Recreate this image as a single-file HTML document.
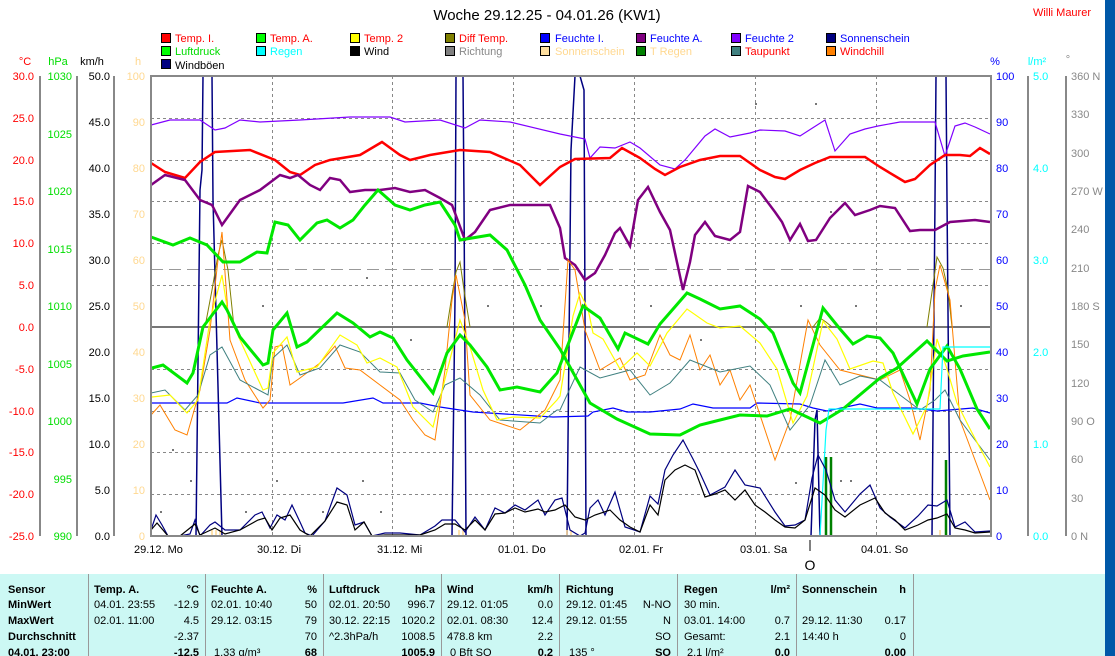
<!DOCTYPE html>
<html><head><meta charset="utf-8">
<style>
html,body{margin:0;padding:0;background:#fff;width:1115px;height:656px;overflow:hidden;font-family:"Liberation Sans",sans-serif}
svg{display:block}
</style></head><body>
<svg width="1115" height="656" xmlns="http://www.w3.org/2000/svg" font-family="Liberation Sans, sans-serif" font-size="11">
<rect x="0" y="0" width="1115" height="656" fill="#fff"/>
<rect x="1105" y="0" width="10" height="656" fill="#0058a8"/>
<text x="547" y="20" font-size="15" text-anchor="middle">Woche 29.12.25 - 04.01.26 (KW1)</text>
<text x="1091" y="16" fill="#f00" text-anchor="end">Willi Maurer</text>
<!-- legend -->
<g stroke="#000" stroke-width="1">
<rect x="161.5" y="33.5" width="9" height="9" fill="#f00"/><rect x="256.5" y="33.5" width="9" height="9" fill="#0f0"/><rect x="350.5" y="33.5" width="9" height="9" fill="#ff0"/><rect x="445.5" y="33.5" width="9" height="9" fill="#808000"/><rect x="540.5" y="33.5" width="9" height="9" fill="#00f"/><rect x="636.5" y="33.5" width="9" height="9" fill="#800080"/><rect x="731.5" y="33.5" width="9" height="9" fill="#8000ff"/><rect x="826.5" y="33.5" width="9" height="9" fill="#000080"/>
<rect x="161.5" y="46.5" width="9" height="9" fill="#0f0"/><rect x="256.5" y="46.5" width="9" height="9" fill="#0ff"/><rect x="350.5" y="46.5" width="9" height="9" fill="#000"/><rect x="445.5" y="46.5" width="9" height="9" fill="#808080"/><rect x="540.5" y="46.5" width="9" height="9" fill="#ffe0a0"/><rect x="636.5" y="46.5" width="9" height="9" fill="#008000"/><rect x="731.5" y="46.5" width="9" height="9" fill="#408080"/><rect x="826.5" y="46.5" width="9" height="9" fill="#ff8000"/>
<rect x="161.5" y="59.5" width="9" height="9" fill="#000080"/>
</g>
<g>
<text x="175" y="42" fill="#f00">Temp. I.</text><text x="270" y="42" fill="#f00">Temp. A.</text><text x="364" y="42" fill="#f00">Temp. 2</text><text x="459" y="42" fill="#f00">Diff Temp.</text><text x="555" y="42" fill="#00f">Feuchte I.</text><text x="650" y="42" fill="#00f">Feuchte A.</text><text x="745" y="42" fill="#00f">Feuchte 2</text><text x="840" y="42" fill="#00f">Sonnenschein</text>
<text x="175" y="55" fill="#0d0">Luftdruck</text><text x="270" y="55" fill="#0ff">Regen</text><text x="364" y="55" fill="#000">Wind</text><text x="459" y="55" fill="#888">Richtung</text><text x="555" y="55" fill="#ffd890">Sonnenschein</text><text x="650" y="55" fill="#ffd890">T Regen</text><text x="745" y="55" fill="#f00">Taupunkt</text><text x="840" y="55" fill="#f00">Windchill</text>
<text x="175" y="69" fill="#000">Windböen</text>
</g>
<!-- axis unit labels -->
<text x="25" y="65" fill="#f00" text-anchor="middle">°C</text>
<text x="58" y="65" fill="#0d0" text-anchor="middle">hPa</text>
<text x="92" y="65" text-anchor="middle">km/h</text>
<text x="138" y="65" fill="#ffd890" text-anchor="middle">h</text>
<text x="995" y="65" fill="#00f" text-anchor="middle">%</text>
<text x="1037" y="65" fill="#0ff" text-anchor="middle">l/m²</text>
<text x="1068" y="63" fill="#888" text-anchor="middle">°</text>
<!-- axis lines -->
<g stroke="#888" stroke-width="2">
<line x1="40" y1="76" x2="40" y2="536"/><line x1="77" y1="76" x2="77" y2="536"/><line x1="114" y1="76" x2="114" y2="536"/>
<line x1="1028" y1="76" x2="1028" y2="536"/><line x1="1066" y1="76" x2="1066" y2="536"/>
</g>
<!-- ticks/labels left -->
<g fill="#f00" text-anchor="end">
<text x="34" y="80">30.0</text><text x="34" y="122">25.0</text><text x="34" y="164">20.0</text><text x="34" y="205">15.0</text><text x="34" y="247">10.0</text><text x="34" y="289">5.0</text><text x="34" y="331">0.0</text><text x="34" y="373">-5.0</text><text x="34" y="415">-10.0</text><text x="34" y="456">-15.0</text><text x="34" y="498">-20.0</text><text x="34" y="540">-25.0</text>
</g>
<g fill="#0d0" text-anchor="end">
<text x="72" y="80">1030</text><text x="72" y="138">1025</text><text x="72" y="195">1020</text><text x="72" y="253">1015</text><text x="72" y="310">1010</text><text x="72" y="368">1005</text><text x="72" y="425">1000</text><text x="72" y="483">995</text><text x="72" y="540">990</text>
</g>
<g text-anchor="end">
<text x="110" y="80">50.0</text><text x="110" y="126">45.0</text><text x="110" y="172">40.0</text><text x="110" y="218">35.0</text><text x="110" y="264">30.0</text><text x="110" y="310">25.0</text><text x="110" y="356">20.0</text><text x="110" y="402">15.0</text><text x="110" y="448">10.0</text><text x="110" y="494">5.0</text><text x="110" y="540">0.0</text>
</g>
<g fill="#ffd890" text-anchor="end">
<text x="145" y="80">100</text><text x="145" y="126">90</text><text x="145" y="172">80</text><text x="145" y="218">70</text><text x="145" y="264">60</text><text x="145" y="310">50</text><text x="145" y="356">40</text><text x="145" y="402">30</text><text x="145" y="448">20</text><text x="145" y="494">10</text><text x="145" y="540">0</text>
</g>
<g fill="#00f">
<text x="996" y="80">100</text><text x="996" y="126">90</text><text x="996" y="172">80</text><text x="996" y="218">70</text><text x="996" y="264">60</text><text x="996" y="310">50</text><text x="996" y="356">40</text><text x="996" y="402">30</text><text x="996" y="448">20</text><text x="996" y="494">10</text><text x="996" y="540">0</text>
</g>
<g fill="#0ff">
<text x="1033" y="80">5.0</text><text x="1033" y="172">4.0</text><text x="1033" y="264">3.0</text><text x="1033" y="356">2.0</text><text x="1033" y="448">1.0</text><text x="1033" y="540">0.0</text>
</g>
<g fill="#888">
<text x="1071" y="80">360 N</text><text x="1071" y="118">330</text><text x="1071" y="157">300</text><text x="1071" y="195">270 W</text><text x="1071" y="233">240</text><text x="1071" y="272">210</text><text x="1071" y="310">180 S</text><text x="1071" y="348">150</text><text x="1071" y="387">120</text><text x="1071" y="425">90 O</text><text x="1071" y="463">60</text><text x="1071" y="502">30</text><text x="1071" y="540">0 N</text>
</g>
<!-- gridlines -->
<g stroke="#888" stroke-width="1" stroke-dasharray="3,3">
<line x1="151" y1="118.5" x2="991" y2="118.5"/><line x1="151" y1="160.5" x2="991" y2="160.5"/><line x1="151" y1="201.5" x2="991" y2="201.5"/><line x1="151" y1="243.5" x2="991" y2="243.5"/><line x1="151" y1="285.5" x2="991" y2="285.5"/><line x1="151" y1="369.5" x2="991" y2="369.5"/><line x1="151" y1="411.5" x2="991" y2="411.5"/><line x1="151" y1="452.5" x2="991" y2="452.5"/><line x1="151" y1="494.5" x2="991" y2="494.5"/>
<line x1="272.5" y1="76" x2="272.5" y2="536"/><line x1="392.5" y1="76" x2="392.5" y2="536"/><line x1="513.5" y1="76" x2="513.5" y2="536"/><line x1="634.5" y1="76" x2="634.5" y2="536"/><line x1="755.5" y1="76" x2="755.5" y2="536"/><line x1="876.5" y1="76" x2="876.5" y2="536"/>
</g>
<line x1="151" y1="269.5" x2="991" y2="269.5" stroke="#999" stroke-dasharray="12,6"/>
<line x1="151" y1="327" x2="991" y2="327" stroke="#777" stroke-width="2"/>
<!-- gray dots -->
<g fill="#777">
<rect x="160" y="511" width="2" height="2"/><rect x="172" y="449" width="2" height="2"/><rect x="190" y="480" width="2" height="2"/><rect x="276" y="480" width="2" height="2"/><rect x="245" y="511" width="2" height="2"/><rect x="322" y="511" width="2" height="2"/><rect x="362" y="480" width="2" height="2"/><rect x="380" y="511" width="2" height="2"/><rect x="226" y="305" width="2" height="2"/><rect x="262" y="305" width="2" height="2"/><rect x="366" y="277" width="2" height="2"/><rect x="410" y="339" width="2" height="2"/><rect x="487" y="305" width="2" height="2"/><rect x="540" y="305" width="2" height="2"/><rect x="755" y="103" width="2" height="2"/><rect x="815" y="103" width="2" height="2"/><rect x="650" y="305" width="2" height="2"/><rect x="800" y="305" width="2" height="2"/><rect x="855" y="305" width="2" height="2"/><rect x="960" y="305" width="2" height="2"/><rect x="700" y="339" width="2" height="2"/><rect x="830" y="211" width="2" height="2"/><rect x="795" y="482" width="2" height="2"/><rect x="840" y="480" width="2" height="2"/><rect x="850" y="480" width="2" height="2"/>
</g>
<!-- sunshine -->
<g fill="none" stroke="#000080" stroke-width="1.5">
<polyline points="196,536 200,190 202,170 203,76 212,76 213,200 222,536"/>
<polyline points="452,536 455,300 456,76 463,76 464,200 466,536"/>
<polyline points="567,536 571,150 575,76 580,76 584,90 586,536"/>
<polyline points="811,536 815,420 817,410 820,536"/>
<polyline points="932,536 935,200 936,76 946,76 947,200 950,536"/>
</g>
<!-- Feuchte I -->
<polyline fill="none" stroke="#00f" stroke-width="1.2" points="151,403 227,403 237,398 260,403 343,403 373,398 383,403 420,403 440,407 473,412 553,417 588,416 593,412 613,408 627,412 650,412 680,409 693,404 713,408 750,408 757,403 800,404 813,408 827,411 860,404 877,408 913,408 937,411 973,408 990,413"/>
<!-- Feuchte 2 -->
<polyline fill="none" stroke="#8000ff" stroke-width="1.2" points="151,125 170,120 200,120 215,130 225,128 240,120 260,122 300,120 350,117 390,117 405,122 440,120 465,128 480,120 510,122 560,134 585,139 590,158 600,147 615,148 630,142 640,148 660,165 675,169 685,160 705,136 715,129 730,137 750,133 760,130 785,131 800,136 825,120 835,151 850,134 865,129 878,126 900,122 935,122 945,156 955,126 965,123 975,127 990,134"/>
<!-- Temp I -->
<polyline fill="none" stroke="#f00" stroke-width="2.5" points="151,163 165,172 185,178 200,162 215,152 250,150 275,160 290,172 300,175 315,165 330,160 360,155 382,142 400,155 410,160 430,155 460,150 490,152 520,165 540,185 560,167 575,159 610,158 622,148 640,158 655,169 665,175 680,167 700,160 720,156 740,156 760,170 775,177 785,179 800,170 815,163 830,157 850,157 865,157 880,167 895,176 905,182 915,179 930,165 945,155 960,155 970,156 980,148 990,154"/>
<!-- Feuchte A -->
<polyline fill="none" stroke="#800080" stroke-width="2.5" points="151,185 165,175 185,180 200,200 212,205 222,225 240,200 260,190 280,175 290,178 298,175 310,185 320,190 330,178 340,180 350,192 365,190 380,190 395,188 410,192 425,190 440,198 452,205 465,240 475,232 490,210 510,205 535,205 550,205 560,228 565,258 575,265 585,280 595,273 605,255 615,233 620,228 630,246 638,200 648,187 660,212 670,230 683,290 690,262 695,235 705,222 715,236 730,240 740,232 748,186 760,192 775,212 782,222 790,240 800,224 808,241 816,240 830,218 845,203 855,215 870,210 880,206 895,208 910,231 920,230 935,230 950,222 975,220 990,222"/>
<!-- Diff temp -->
<g fill="none" stroke="#808000" stroke-width="1">
<polyline points="205,327 212,290 218,255 222,240 228,270 234,327"/>
<polyline points="447,327 452,295 456,272 460,262 464,290 470,327"/>
<polyline points="813,327 820,318 826,322 832,327"/>
<polyline points="927,327 933,285 937,257 943,268 948,290 952,327"/>
</g>
<!-- Orange windchill -->
<polyline fill="none" stroke="#ff8000" stroke-width="1" points="151,415 160,405 175,430 187,435 200,390 210,330 218,260 222,232 230,340 245,380 263,408 270,400 275,347 282,345 290,385 300,378 320,363 335,346 345,368 360,370 380,385 400,400 413,420 425,435 435,440 445,370 452,300 456,275 465,320 470,395 490,420 520,430 545,410 560,380 568,260 575,270 585,330 600,370 620,358 630,380 645,375 660,335 670,355 680,360 690,335 700,370 710,355 720,385 730,370 740,400 750,385 765,430 775,460 790,420 808,320 820,345 840,370 860,375 880,380 900,370 910,400 920,440 930,390 935,290 940,265 950,300 960,420 975,460 990,500"/>
<!-- Taupunkt -->
<polyline fill="none" stroke="#408080" stroke-width="1" points="151,393 165,390 185,410 198,395 210,355 222,347 240,380 268,395 273,358 287,345 300,375 320,368 340,345 360,352 380,372 400,373 415,400 433,412 445,385 460,378 480,395 500,420 540,423 557,410 560,410 580,367 600,378 630,370 650,395 670,383 690,360 720,372 750,366 770,385 790,430 810,405 825,360 840,385 860,376 880,380 900,395 920,410 935,400 945,390 960,420 975,440 990,460"/>
<!-- Temp 2 -->
<polyline fill="none" stroke="#ff0" stroke-width="1.2" points="152,397 170,395 187,413 198,400 210,320 222,275 228,313 240,340 263,390 268,388 273,353 287,337 297,372 317,367 340,335 357,345 367,363 380,358 397,367 413,407 433,427 443,387 460,320 470,347 483,390 497,420 513,417 540,418 557,400 560,396 573,316 580,293 588,309 593,333 603,339 620,369 637,353 650,366 667,333 687,309 707,323 720,328 740,326 760,343 777,369 793,423 807,396 823,321 837,339 850,369 873,361 883,363 893,393 913,434 927,406 937,339 947,369 957,403 970,429 990,467"/>
<!-- Luftdruck -->
<polyline fill="none" stroke="#00e800" stroke-width="3" points="151,237 173,245 190,238 207,245 223,262 240,262 257,252 267,253 275,222 288,225 300,240 317,223 327,220 340,228 353,220 365,205 378,190 395,205 410,210 425,205 440,202 455,225 460,240 490,235 507,250 525,285 540,320 560,349 590,403 617,419 650,434 680,435 700,425 720,420 740,415 767,416 790,409 820,423 843,409 880,378 897,368 927,341 947,361 963,356 990,352"/>
<!-- Temp A -->
<polyline fill="none" stroke="#00e800" stroke-width="3" points="152,368 163,365 187,383 193,373 203,327 222,302 227,310 240,337 263,365 268,363 273,330 287,313 297,347 307,342 337,313 353,323 370,337 380,332 393,338 407,360 433,393 447,353 460,335 470,345 487,367 500,390 517,387 540,392 557,373 583,306 600,318 618,349 625,333 648,344 660,324 687,293 700,299 720,309 740,306 760,319 773,333 793,383 800,393 823,308 840,329 853,344 867,336 880,338 893,353 917,404 930,369 947,346 960,369 977,409 990,429"/>
<!-- Regen -->
<polyline fill="none" stroke="#0ff" stroke-width="1.2" points="820,536 826,430 829,409 900,409 940,409 943,347 990,347"/>
<!-- T Regen bars -->
<g stroke="#008000" stroke-width="2.5"><line x1="826" y1="536" x2="826" y2="457"/><line x1="831" y1="536" x2="831" y2="457"/><line x1="946" y1="536" x2="946" y2="460"/></g>
<!-- sunny small bars -->
<g stroke="#ffd890" stroke-width="1.5"><line x1="212" y1="536" x2="212" y2="530"/><line x1="216" y1="536" x2="216" y2="530"/><line x1="220" y1="536" x2="220" y2="530"/><line x1="459" y1="536" x2="459" y2="530"/><line x1="463" y1="536" x2="463" y2="530"/><line x1="567" y1="536" x2="567" y2="530"/><line x1="571" y1="536" x2="571" y2="530"/><line x1="940" y1="536" x2="940" y2="530"/></g>
<!-- Windböen -->
<polyline fill="none" stroke="#000080" stroke-width="1.2" points="151,530 156,515 162,525 168,536 180,536 190,534 195,520 200,536 210,525 215,522 225,530 240,530 255,515 262,512 270,528 277,515 285,520 292,505 300,522 305,533 312,536 325,521 337,488 347,495 355,525 364,522 372,536 385,533 400,533 420,535 435,526 442,520 455,520 465,532 475,517 485,530 495,508 505,513 515,505 525,510 538,500 545,515 555,500 562,498 570,530 580,536 585,533 590,508 598,500 605,515 615,492 625,527 640,532 650,496 658,504 665,470 673,455 683,440 693,459 700,473 710,495 725,487 735,470 745,485 760,488 775,512 785,526 795,525 805,520 812,478 818,455 826,470 835,500 845,512 860,494 870,485 880,508 890,517 905,528 918,516 928,505 937,506 947,500 955,527 965,522 975,532 990,531"/>
<!-- Wind -->
<polyline fill="none" stroke="#000" stroke-width="1.2" points="151,530 157,523 163,530 168,536 180,536 195,524 200,535 215,528 225,534 240,530 258,520 265,518 272,530 280,518 290,515 300,530 310,536 325,521 337,502 347,505 355,530 364,522 372,536 385,535 420,535 435,530 445,524 455,524 465,530 475,520 485,530 495,514 505,513 515,508 525,512 538,509 545,512 555,510 565,505 575,517 585,520 595,515 610,510 620,520 630,527 640,532 650,505 658,515 665,480 675,470 685,465 695,470 705,497 715,494 725,490 735,500 745,490 755,505 765,512 775,520 785,527 795,528 805,520 815,488 825,495 835,510 845,517 860,505 875,498 885,513 895,520 905,530 918,525 928,520 937,518 947,514 955,528 965,530 975,533 990,532"/>
<!-- plot frame -->
<line x1="151" y1="76" x2="991" y2="76" stroke="#888" stroke-width="2"/>
<line x1="151" y1="75" x2="151" y2="537" stroke="#888" stroke-width="2"/>
<line x1="991" y1="75" x2="991" y2="537" stroke="#888" stroke-width="2"/>
<line x1="151" y1="536" x2="991" y2="536" stroke="#888" stroke-width="2"/>
<!-- x labels -->
<g font-size="11">
<text x="134" y="553">29.12.  Mo</text><text x="257" y="553">30.12.  Di</text><text x="377" y="553">31.12.  Mi</text><text x="498" y="553">01.01.  Do</text><text x="619" y="553">02.01.  Fr</text><text x="740" y="553">03.01.  Sa</text><text x="861" y="553">04.01.  So</text>
</g>
<line x1="810" y1="540" x2="810" y2="551" stroke="#000"/>
<text x="810" y="570" font-size="14" text-anchor="middle">O</text>
<!-- table -->
<rect x="0" y="574" width="1105" height="82" fill="#ccf8f4"/>
<g stroke="#999" stroke-width="1"><line x1="88.5" y1="574" x2="88.5" y2="656"/><line x1="205.5" y1="574" x2="205.5" y2="656"/><line x1="323.5" y1="574" x2="323.5" y2="656"/><line x1="441.5" y1="574" x2="441.5" y2="656"/><line x1="559.5" y1="574" x2="559.5" y2="656"/><line x1="677.5" y1="574" x2="677.5" y2="656"/><line x1="796.5" y1="574" x2="796.5" y2="656"/><line x1="913.5" y1="574" x2="913.5" y2="656"/></g>
<g font-size="11">
<g font-weight="bold"><text x="8" y="593">Sensor</text><text x="8" y="608">MinWert</text><text x="8" y="624">MaxWert</text><text x="8" y="640">Durchschnitt</text><text x="8" y="656">04.01.  23:00</text>
<text x="94" y="593">Temp. A.</text><text x="199" y="593" text-anchor="end">°C</text>
<text x="211" y="593">Feuchte A.</text><text x="317" y="593" text-anchor="end">%</text>
<text x="329" y="593">Luftdruck</text><text x="435" y="593" text-anchor="end">hPa</text>
<text x="447" y="593">Wind</text><text x="553" y="593" text-anchor="end">km/h</text>
<text x="566" y="593">Richtung</text>
<text x="684" y="593">Regen</text><text x="790" y="593" text-anchor="end">l/m²</text>
<text x="802" y="593">Sonnenschein</text><text x="906" y="593" text-anchor="end">h</text>
<text x="199" y="656" text-anchor="end">-12.5</text><text x="317" y="656" text-anchor="end">68</text><text x="435" y="656" text-anchor="end">1005.9</text><text x="553" y="656" text-anchor="end">0.2</text><text x="671" y="656" text-anchor="end">SO</text><text x="790" y="656" text-anchor="end">0.0</text><text x="906" y="656" text-anchor="end">0.00</text>
</g>
<text x="94" y="608">04.01.  23:55</text><text x="199" y="608" text-anchor="end">-12.9</text>
<text x="94" y="624">02.01.  11:00</text><text x="199" y="624" text-anchor="end">4.5</text>
<text x="199" y="640" text-anchor="end">-2.37</text>
<text x="211" y="608">02.01.  10:40</text><text x="317" y="608" text-anchor="end">50</text>
<text x="211" y="624">29.12.  03:15</text><text x="317" y="624" text-anchor="end">79</text>
<text x="317" y="640" text-anchor="end">70</text><text x="214" y="656">1.33 g/m³</text>
<text x="329" y="608">02.01.  20:50</text><text x="435" y="608" text-anchor="end">996.7</text>
<text x="329" y="624">30.12.  22:15</text><text x="435" y="624" text-anchor="end">1020.2</text>
<text x="329" y="640">^2.3hPa/h</text><text x="435" y="640" text-anchor="end">1008.5</text>
<text x="447" y="608">29.12.  01:05</text><text x="553" y="608" text-anchor="end">0.0</text>
<text x="447" y="624">02.01.  08:30</text><text x="553" y="624" text-anchor="end">12.4</text>
<text x="447" y="640">478.8 km</text><text x="553" y="640" text-anchor="end">2.2</text><text x="450" y="656">0 Bft SO</text>
<text x="566" y="608">29.12.  01:45</text><text x="671" y="608" text-anchor="end">N-NO</text>
<text x="566" y="624">29.12.  01:55</text><text x="671" y="624" text-anchor="end">N</text>
<text x="671" y="640" text-anchor="end">SO</text><text x="569" y="656">135 °</text>
<text x="684" y="608">30 min.</text>
<text x="684" y="624">03.01.  14:00</text><text x="790" y="624" text-anchor="end">0.7</text>
<text x="684" y="640">Gesamt:</text><text x="790" y="640" text-anchor="end">2.1</text><text x="687" y="656">2.1 l/m²</text>
<text x="802" y="624">29.12.  11:30</text><text x="906" y="624" text-anchor="end">0.17</text>
<text x="802" y="640">14:40 h</text><text x="906" y="640" text-anchor="end">0</text>
</g>
</svg>
</body></html>
